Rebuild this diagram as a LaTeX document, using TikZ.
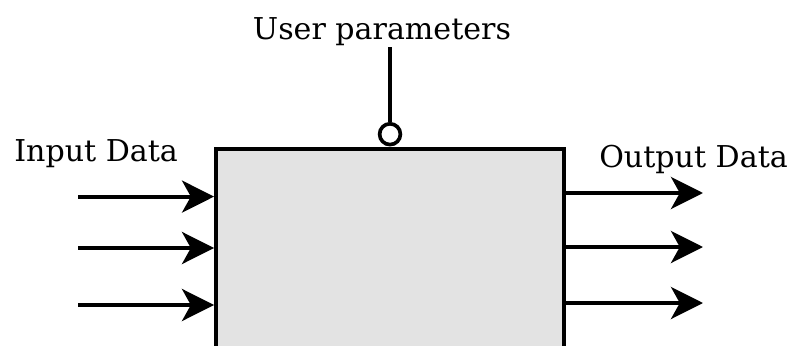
\documentclass[tikz,border=0pt]{standalone}
\usepackage{fontspec}
\setmainfont{DejaVu Serif}
\usepackage{tikz}
\usetikzlibrary{arrows.meta}
\usetikzlibrary{calc}
\tikzset{
    flow/.style={line width=2.8pt,-{Stealth[length=0.8cm,width=0.8cm,inset=0.22cm]}},
    label text/.style={font=\fontsize{21.4}{25}\selectfont,inner sep=0pt}
}
\begin{document}
\begin{tikzpicture}
        \useasboundingbox (0,0) rectangle (19.725,8.625);
        \clip (0,0) rectangle (19.725,8.625);
        \node[draw,line width=2.8pt,fill=black!11,minimum width=8.7cm,minimum height=6cm,anchor=north,inner sep=0pt] (proc) at (9.75,4.95) {};
        % inputs
        \foreach \i/\y in {1/3.71,2/2.425,3/1.0} {
            \coordinate (in\i) at (1.95,\y);
            \draw[flow] (in\i)--(in\i -| proc.west);
        }
        % outputs
        \foreach \i/\y in {1/3.8,2/2.45,3/1.05} {
            \coordinate (out\i) at (17.575,\y);
            \draw[flow] (out\i -| proc.east)--(out\i);
        }
        % parameters
        \node[draw,circle,line width=2.6pt,fill=white,minimum size=0.52cm,inner sep=0pt] (knob) at (9.75,5.27) {};
        \coordinate (par) at (9.75,7.45);
        \draw[line width=2.8pt] (knob.north)--(par);
        \node[label text,anchor=base] (partext) at (9.55,7.625) {User parameters};
        \node[label text,anchor=base west] (intext) at (0.35,4.6) {Input Data};
        \node[label text,anchor=base west] (outtext) at (14.975,4.45) {Output Data};
    \end{tikzpicture}
\end{document}
